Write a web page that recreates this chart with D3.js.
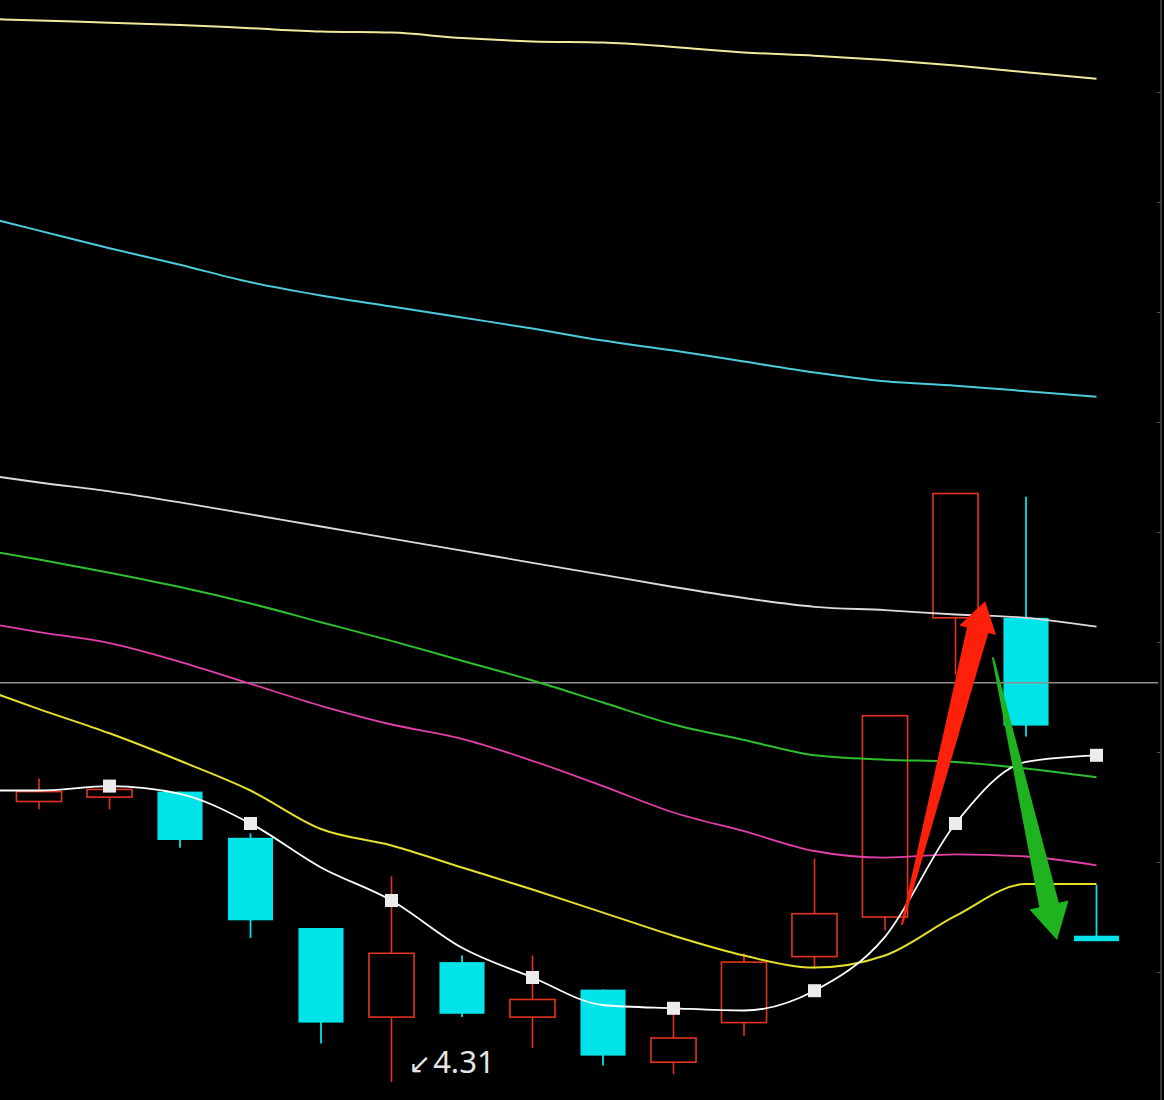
<!DOCTYPE html>
<html><head><meta charset="utf-8">
<script src="https://cdn.jsdelivr.net/npm/d3@7"></script>
<style>html,body{margin:0;padding:0;background:#000;overflow:hidden}</style>
</head><body>
<svg id="chart" width="1164" height="1100"></svg>
<script>
// ---- data (prices) ----
const barIndex = [0,1,2,3,4,5,6,7,8,9,10,11,12,13,14,15];
const openP  = [4.565,4.569,4.574,4.532,4.450,4.369,4.419,4.369,4.394,4.328,4.364,4.424,4.460,4.732,4.732,4.443];
const highP  = [4.586,4.585,4.574,4.536,4.450,4.497,4.425,4.425,4.394,4.377,4.427,4.513,4.643,4.845,4.842,4.489];
const lowP   = [4.558,4.558,4.523,4.441,4.345,4.310,4.369,4.341,4.325,4.317,4.352,4.413,4.448,4.680,4.624,4.438];
const closeP = [4.574,4.576,4.530,4.457,4.364,4.427,4.372,4.385,4.334,4.350,4.419,4.463,4.643,4.845,4.634,4.438];

// moving averages, first value belongs to the bar just left of the view (index -1)
const maIndex = [-1,0,1,2,3,4,5,6,7,8,9,10,11,12,13,14,15];
const ma5   = [4.575,4.575,4.579,4.572,4.545,4.505,4.475,4.432,4.405,4.380,4.377,4.375,4.393,4.442,4.545,4.601,4.607];
const ma10  = [4.672,4.649,4.627,4.602,4.575,4.540,4.525,4.505,4.485,4.464,4.443,4.425,4.414,4.425,4.461,4.490,4.490];
const ma20  = [4.730,4.719,4.709,4.692,4.672,4.652,4.635,4.622,4.602,4.579,4.555,4.538,4.520,4.514,4.517,4.515,4.507];
const ma30  = [4.796,4.785,4.773,4.760,4.745,4.728,4.711,4.693,4.675,4.655,4.635,4.621,4.607,4.603,4.601,4.595,4.587];
const ma60  = [4.864,4.855,4.847,4.837,4.826,4.815,4.804,4.793,4.782,4.771,4.760,4.750,4.742,4.739,4.735,4.732,4.724];
const ma120 = [5.100,5.084,5.068,5.053,5.037,5.025,5.015,5.005,4.995,4.984,4.975,4.965,4.955,4.947,4.943,4.938,4.933];
const ma250 = [5.277,5.275,5.273,5.271,5.268,5.265,5.264,5.259,5.256,5.255,5.251,5.246,5.243,5.239,5.234,5.228,5.222];

const ma5Markers = [1,3,5,7,9,11,13,15];
const axisTicks = [4.41,4.51,4.61,4.71,4.81,4.91,5.01,5.11,5.21];
const refPrice = 4.673;
const lowLabel = "4.31";
const lowLabelBar = 5;
const arrowNotes = [
  {from:[12.24, 4.453], to:[13.42, 4.747], color:"#ff200c", w0:2, w1:22, wh:38, hl:30},
  {from:[13.53, 4.696], to:[14.44, 4.439], color:"#1fb41f", w0:2, w1:20, wh:40, hl:36}
];

// ---- scales ----
const W = 1164, H = 1100;
const x = d3.scaleLinear().domain([0, 15]).range([39, 1096.5]);
const y = d3.scaleLinear().domain([4.31, 5.31]).range([1082, -18]);
const step = x(1) - x(0);
const bodyW = step * 0.64;

const svg = d3.select("#chart");
svg.append("rect").attr("width", W).attr("height", H).attr("fill", "#000");

// right border + small ticks
svg.append("line").attr("x1", 1161).attr("x2", 1161).attr("y1", 0).attr("y2", H)
  .attr("stroke", "#4a4a4a").attr("stroke-width", 1.5);
const ax = svg.append("g").attr("transform", "translate(1161,0)")
  .call(d3.axisLeft(y).tickValues(axisTicks).tickSize(4).tickFormat(""));
ax.select(".domain").remove();
ax.selectAll("line").attr("stroke", "#555");

// candles
const RED = "#e3341f", CYAN = "#00e3e8";
const candles = barIndex.map(i => ({i, o: openP[i], h: highP[i], l: lowP[i], c: closeP[i]}));
const cg = svg.append("g");
candles.forEach(d => {
  const cx = x(d.i);
  const up = d.c >= d.o;
  const top = y(Math.max(d.o, d.c)), bot = y(Math.min(d.o, d.c));
  if (up) {
    cg.append("line").attr("x1", cx).attr("x2", cx).attr("y1", y(d.h)).attr("y2", top)
      .attr("stroke", RED).attr("stroke-width", 1.6);
    cg.append("line").attr("x1", cx).attr("x2", cx).attr("y1", bot).attr("y2", y(d.l))
      .attr("stroke", RED).attr("stroke-width", 1.6);
    cg.append("rect").attr("x", cx - bodyW/2).attr("y", top).attr("width", bodyW)
      .attr("height", Math.max(1, bot - top)).attr("fill", "none")
      .attr("stroke", RED).attr("stroke-width", 1.6);
  } else {
    cg.append("line").attr("x1", cx).attr("x2", cx).attr("y1", y(d.h)).attr("y2", y(d.l))
      .attr("stroke", CYAN).attr("stroke-width", 1.8);
    cg.append("rect").attr("x", cx - bodyW/2).attr("y", top).attr("width", bodyW)
      .attr("height", Math.max(4, bot - top)).attr("fill", CYAN);
  }
});

// reference horizontal line
svg.append("line").attr("x1", 0).attr("x2", 1158).attr("y1", y(refPrice)).attr("y2", y(refPrice))
  .attr("stroke", "#8e8e8e").attr("stroke-width", 1.5);

// moving average lines
const line = d3.line().curve(d3.curveMonotoneX).x((d, k) => x(maIndex[k])).y(d => y(d));
const maSpecs = [
  {v: ma250, c: "#f1ea9c", w: 2},
  {v: ma120, c: "#4ccbdd", w: 2},
  {v: ma60,  c: "#dcdcdc", w: 1.8},
  {v: ma30,  c: "#2ebf2e", w: 2},
  {v: ma20,  c: "#e23fa9", w: 1.8},
  {v: ma10,  c: "#e4e02c", w: 2},
  {v: ma5,   c: "#ffffff", w: 1.8}
];
maSpecs.forEach(s => {
  svg.append("path").attr("d", line(s.v)).attr("fill", "none")
    .attr("stroke", s.c).attr("stroke-width", s.w).attr("stroke-linejoin", "round");
});

// ma5 square markers
svg.selectAll(".mk").data(ma5Markers).enter().append("rect")
  .attr("x", i => x(i) - 6.5).attr("y", i => y(ma5[maIndex.indexOf(i)]) - 6.5)
  .attr("width", 13).attr("height", 13).attr("fill", "#ececec");

// annotation arrows
arrowNotes.forEach(a => {
  const T = [x(a.from[0]), y(a.from[1])], P = [x(a.to[0]), y(a.to[1])];
  const dx = P[0] - T[0], dy = P[1] - T[1], L = Math.hypot(dx, dy);
  const u = [dx / L, dy / L], n = [-u[1], u[0]];
  const B = [P[0] - u[0] * a.hl, P[1] - u[1] * a.hl];
  const pt = (o, s) => [o[0] + n[0] * s, o[1] + n[1] * s];
  const pts = [pt(T, a.w0/2), pt(B, a.w1/2), pt(B, a.wh/2), P, pt(B, -a.wh/2), pt(B, -a.w1/2), pt(T, -a.w0/2)];
  svg.append("path").attr("d", "M" + pts.map(p => p.join(",")).join("L") + "Z").attr("fill", a.color);
});

// low label
const t = svg.append("text").attr("x", x(lowLabelBar) + 17).attr("y", y(lowP[lowLabelBar]) - 9)
  .attr("fill", "#e6e6e6").attr("font-family", "'Noto Sans','DejaVu Sans',sans-serif");
t.append("tspan").attr("font-family", "'DejaVu Sans',sans-serif").attr("font-size", 27).text("↙");
t.append("tspan").attr("dx", 2).attr("font-size", 31).text(lowLabel);
</script>
</body></html>
